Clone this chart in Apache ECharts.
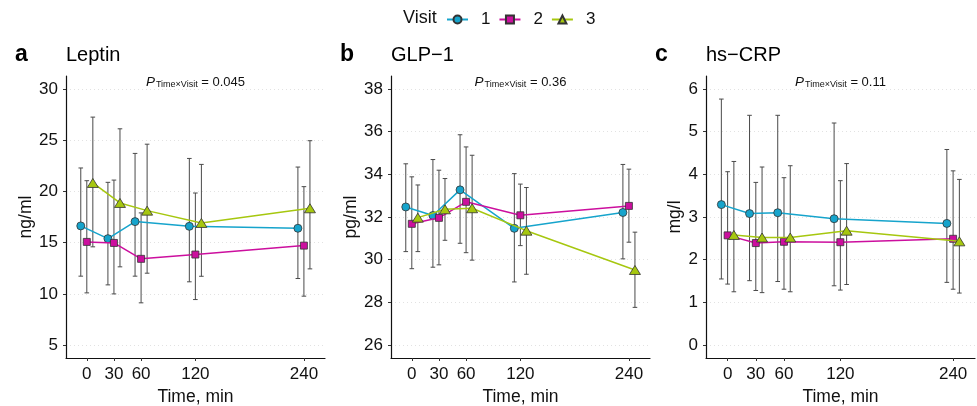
<!DOCTYPE html>
<html>
<head>
<meta charset="utf-8">
<script src="https://cdn.jsdelivr.net/npm/echarts@6/dist/echarts.min.js"></script>
<style>
  html, body { margin: 0; background: #fff; }
  #chart { width: 977px; height: 406px; }
</style>
</head>
<body>
<div id="chart"></div>
<script>
const times = [0, 30, 60, 120, 240];
const visits = ['1', '2', '3'];

// [mean, lower, upper] for each time point
const leptin1 = [[16.63, 11.73, 22.28], [15.39, 10.88, 20.88], [17.05, 11.73, 23.70], [16.59, 11.18, 23.21], [16.40, 11.50, 22.37]];
const leptin2 = [[15.07, 10.10, 21.04], [14.97, 10.00, 21.10], [13.42, 9.13, 17.90], [13.84, 9.45, 19.84], [14.71, 9.78, 20.46]];
const leptin3 = [[20.82, 14.59, 27.24], [18.87, 12.64, 26.10], [18.12, 12.02, 24.60], [16.92, 11.72, 22.63], [18.35, 12.44, 24.94]];

const glp1 = [[32.47, 30.38, 34.49], [32.07, 29.65, 34.69], [33.27, 30.77, 35.85], [31.47, 28.96, 34.03], [32.21, 30.04, 34.46]];
const glp2 = [[31.68, 29.58, 33.88], [31.96, 29.76, 34.19], [32.71, 30.33, 35.28], [32.08, 30.66, 33.54], [32.52, 30.82, 34.24]];
const glp3 = [[31.97, 30.38, 33.50], [32.36, 30.91, 33.80], [32.41, 29.98, 34.89], [31.36, 29.32, 33.38], [29.52, 27.77, 31.29]];

const crp1 = [[3.29, 1.55, 5.76], [3.08, 1.51, 5.38], [3.10, 1.49, 5.38], [2.96, 1.39, 5.20], [2.85, 1.47, 4.58]];
const crp2 = [[2.57, 1.43, 4.06], [2.39, 1.28, 3.81], [2.42, 1.31, 3.92], [2.41, 1.29, 3.85], [2.49, 1.31, 4.08]];
const crp3 = [[2.58, 1.25, 4.30], [2.52, 1.23, 4.17], [2.52, 1.25, 4.20], [2.68, 1.42, 4.25], [2.43, 1.22, 3.88]];

const leptinTicks = [5, 10, 15, 20, 25, 30];
const glpTicks = [26, 28, 30, 32, 34, 36, 38];
const crpTicks = [0, 1, 2, 3, 4, 5, 6];
const pValues = ['0.045', '0.36', '0.11'];

const colors = ['#16a4cc', '#cc0f9e', '#a6c70f'];
const symbols = ['circle', 'rect', 'triangle'];
const symbolSizes = [8, 7, [11, 9]];
const dodge = [-20 / 3, 0, 20 / 3];
const font = 'Liberation Sans, Arial, sans-serif';

const panels = [
  { letter: 'a', title: 'Leptin', unit: 'ng/ml', data: [leptin1, leptin2, leptin3], ticks: leptinTicks, min: 3.75, max: 31.25, left: 66, width: 259, nameGap: 31 },
  { letter: 'b', title: 'GLP\u22121', unit: 'pg/ml', data: [glp1, glp2, glp3], ticks: glpTicks, min: 25.4, max: 38.6, left: 391, width: 259, nameGap: 31 },
  { letter: 'c', title: 'hs\u2212CRP', unit: 'mg/l', data: [crp1, crp2, crp3], ticks: crpTicks, min: -0.3, max: 6.3, left: 706, width: 269, nameGap: 22 }
];

function renderErrorBar(params, api) {
  const x = api.value(0);
  const lo = api.coord([x, api.value(1)]);
  const hi = api.coord([x, api.value(2)]);
  const w = 2.3;
  const style = { stroke: '#4a4a4a', lineWidth: 1 };
  return {
    type: 'group',
    children: [
      { type: 'line', shape: { x1: lo[0], y1: lo[1], x2: hi[0], y2: hi[1] }, style: style },
      { type: 'line', shape: { x1: lo[0] - w, y1: lo[1], x2: lo[0] + w, y2: lo[1] }, style: style },
      { type: 'line', shape: { x1: hi[0] - w, y1: hi[1], x2: hi[0] + w, y2: hi[1] }, style: style }
    ]
  };
}

const grids = [], xAxes = [], yAxes = [], series = [], graphics = [];

panels.forEach(function (p, i) {
  grids.push({ left: p.left, top: 76, width: p.width, height: 282, outerBoundsMode: 'none' });
  xAxes.push({
    type: 'value', gridIndex: i, min: -23, max: 263.3,
    name: 'Time, min', nameLocation: 'middle', nameGap: 28,
    nameTextStyle: { fontSize: 17.5, color: '#111', fontFamily: font },
    axisLine: { onZero: false, lineStyle: { color: '#111', width: 1.2 } },
    axisTick: { customValues: times, length: 3, lineStyle: { color: '#333' } },
    axisLabel: { customValues: times, fontSize: 17, color: '#111', fontFamily: font, margin: 8 },
    splitLine: { show: false }
  });
  yAxes.push({
    type: 'value', gridIndex: i, min: p.min, max: p.max,
    name: p.unit, nameLocation: 'middle', nameGap: p.nameGap, nameRotate: 90,
    nameTextStyle: { fontSize: 17.5, color: '#111', fontFamily: font },
    axisLine: { show: true, onZero: false, lineStyle: { color: '#111', width: 1.2 } },
    axisTick: { show: true, customValues: p.ticks, length: 3, lineStyle: { color: '#333' } },
    axisLabel: { customValues: p.ticks, fontSize: 17, color: '#111', fontFamily: font, margin: 8 },
    splitLine: { show: true, lineStyle: { color: '#dadada', width: 0.8, type: [1, 3] } }
  });

  p.data.forEach(function (rows, v) {
    const pts = rows.map(function (r, k) { return [times[k] + dodge[v], r[0]]; });
    const bars = rows.map(function (r, k) { return [times[k] + dodge[v], r[1], r[2]]; });
    series.push({
      type: 'line', name: visits[v], xAxisIndex: i, yAxisIndex: i, data: pts,
      symbol: symbols[v], symbolSize: symbolSizes[v], showAllSymbol: true,
      lineStyle: { color: colors[v], width: 1.5 },
      itemStyle: { color: colors[v], borderColor: '#333', borderWidth: 0.8 },
      z: 3 + v
    });
    series.push({
      type: 'custom', xAxisIndex: i, yAxisIndex: i,
      renderItem: renderErrorBar, data: bars, z: 1, silent: true
    });
  });

  const cx = p.left + p.width / 2;
  graphics.push(
    { type: 'text', x: p.left - 51, y: 55, style: { text: p.letter, fontSize: 23, fontWeight: 'bold', fill: '#000', fontFamily: font, verticalAlign: 'middle' } },
    { type: 'text', x: p.left, y: 55, style: { text: p.title, fontSize: 20, fill: '#000', fontFamily: font, verticalAlign: 'middle' } },
    {
      type: 'text', x: cx, y: 82,
      style: {
        text: '{p|P}{s|Time\u00d7Visit}{e|\u2009= ' + pValues[i] + '}',
        align: 'center', verticalAlign: 'middle', fill: '#111', fontFamily: font,
        rich: {
          p: { fontSize: 13.5, fontStyle: 'italic', fontFamily: font },
          s: { fontSize: 9, fontFamily: font, padding: [6, 1, 0, 1] },
          e: { fontSize: 13, fontFamily: font }
        }
      }
    }
  );
});

graphics.push({ type: 'text', x: 403, y: 18, style: { text: 'Visit', fontSize: 18, fill: '#111', fontFamily: font, verticalAlign: 'middle' } });

const chart = echarts.init(document.getElementById('chart'), null, { renderer: 'canvas' });
chart.setOption({
  animation: false,
  backgroundColor: '#fff',
  legend: {
    data: visits, left: 441, top: 6, itemWidth: 21, itemHeight: 10, itemGap: 8,
    textStyle: { fontSize: 17, color: '#111', fontFamily: font, padding: [0, 0, 0, 8] }
  },
  grid: grids,
  xAxis: xAxes,
  yAxis: yAxes,
  series: series,
  graphic: graphics
});
</script>
</body>
</html>
